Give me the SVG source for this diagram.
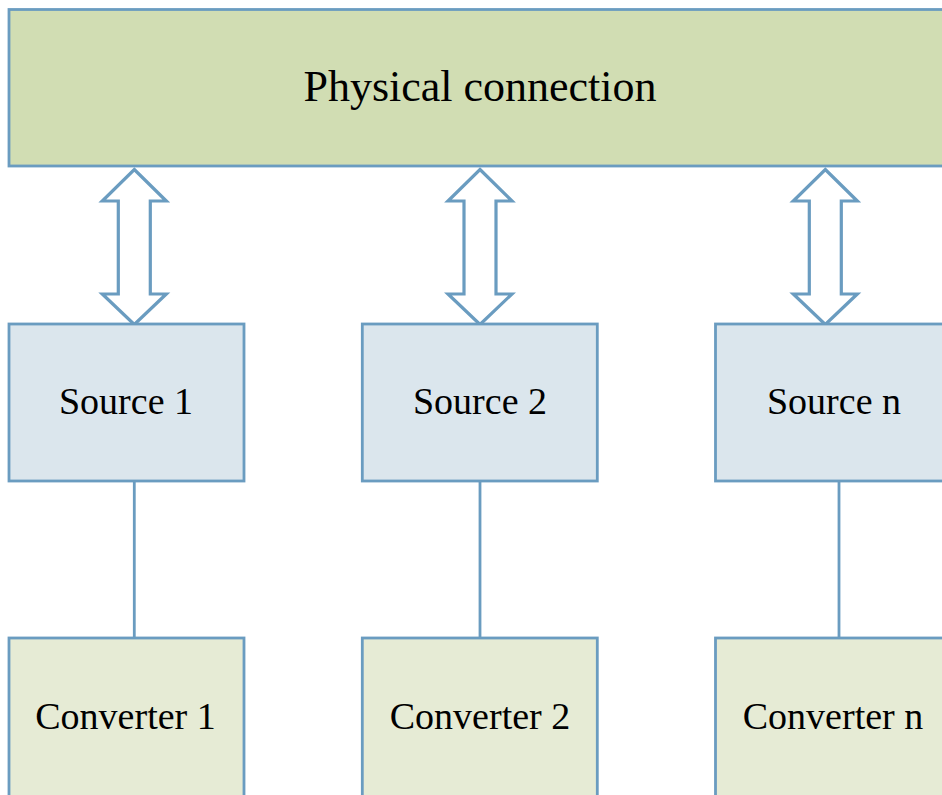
<svg xmlns="http://www.w3.org/2000/svg" width="942" height="795" viewBox="0 0 942 795">
<defs>
<style>
.box{stroke:#6a9cc0;stroke-width:2.8}
.top{fill:#d1ddb3}
.src{fill:#dbe6ed}
.cnv{fill:#e6ebd5}
.arr{fill:#ffffff;stroke:#6a9cc0;stroke-width:3.2;stroke-linejoin:miter}
.ln{stroke:#6a9cc0;stroke-width:2.8;fill:none}
text{font-family:"Liberation Serif","Times New Roman",serif;fill:#000;text-anchor:middle}
.big{font-size:44px}
.lbl{font-size:38px}
</style>
<polygon id="dblarrow" points="0,0 32,31.5 16,31.5 16,124.5 32,124.5 0,155 -32,124.5 -16,124.5 -16,31.5 -32,31.5"/>
</defs>
<rect width="942" height="795" fill="#ffffff"/>
<g id="physical">
<rect class="box top" x="9" y="9.5" width="940" height="156.5"/>
<text class="big" x="480" y="101">Physical connection</text>
</g>
<g id="connectors">
<use href="#dblarrow" class="arr" x="134.3" y="169.5"/>
<use href="#dblarrow" class="arr" x="480" y="169.5"/>
<use href="#dblarrow" class="arr" x="825.3" y="169.5"/>
<line class="ln" x1="134.3" y1="481" x2="134.3" y2="638"/>
<line class="ln" x1="480" y1="481" x2="480" y2="638"/>
<line class="ln" x1="839" y1="481" x2="839" y2="638"/>
</g>
<g id="source1">
<rect class="box src" x="9" y="324" width="235" height="157"/>
<text class="lbl" x="126" y="413.5">Source 1</text>
</g>
<g id="source2">
<rect class="box src" x="362.3" y="324" width="235" height="157"/>
<text class="lbl" x="480" y="413.5">Source 2</text>
</g>
<g id="sourcen">
<rect class="box src" x="715.5" y="324" width="240" height="157"/>
<text class="lbl" x="834" y="413.5">Source n</text>
</g>
<g id="converter1">
<rect class="box cnv" x="9" y="638" width="235" height="170"/>
<text class="lbl" x="125.5" y="729">Converter 1</text>
</g>
<g id="converter2">
<rect class="box cnv" x="362.3" y="638" width="235" height="170"/>
<text class="lbl" x="480" y="729">Converter 2</text>
</g>
<g id="convertern">
<rect class="box cnv" x="715.5" y="638" width="240" height="170"/>
<text class="lbl" x="833" y="729">Converter n</text>
</g>
</svg>
